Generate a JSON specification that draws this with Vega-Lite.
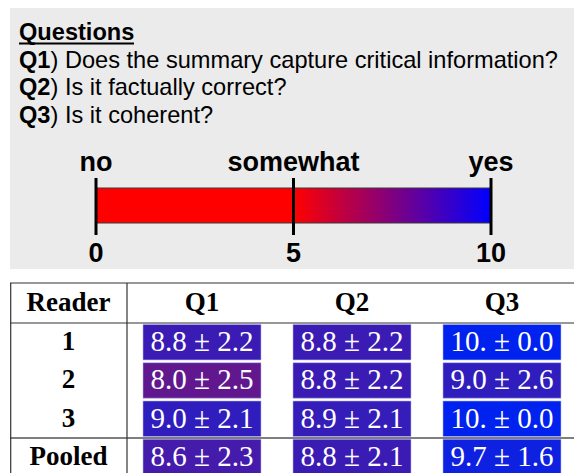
{
  "$schema": "https://vega.github.io/schema/vega-lite/v6.json",
  "background": "white",
  "padding": {"left": 9, "top": 8, "right": 0, "bottom": 0},
  "autosize": {"type": "pad"},
  "bounds": "flush",
  "spacing": 14,
  "config": {"view": {"stroke": null}},
  "datasets": {
    "questions": [
      {"line": "Questions", "part": "id", "text": "Questions"},
      {"line": "Q1", "part": "id", "text": "Q1"},
      {"line": "Q1", "part": "text", "text": ") Does the summary capture critical information?"},
      {"line": "Q2", "part": "id", "text": "Q2"},
      {"line": "Q2", "part": "text", "text": ") Is it factually correct?"},
      {"line": "Q3", "part": "id", "text": "Q3"},
      {"line": "Q3", "part": "text", "text": ") Is it coherent?"}
    ],
    "scale_bar": [{"element": "bar", "from": 0, "to": 10}],
    "scale_ticks": [
      {"element": "tick", "value": 0},
      {"element": "tick", "value": 5},
      {"element": "tick", "value": 10}
    ],
    "scale_labels": [
      {"value": 0, "kind": "answer", "label": "no"},
      {"value": 5, "kind": "answer", "label": "somewhat"},
      {"value": 10, "kind": "answer", "label": "yes"},
      {"value": 0, "kind": "score", "label": "0"},
      {"value": 5, "kind": "score", "label": "5"},
      {"value": 10, "kind": "score", "label": "10"}
    ],
    "headers": [
      {"column": "Reader"},
      {"column": "Q1"},
      {"column": "Q2"},
      {"column": "Q3"}
    ],
    "scores": [
      {"reader": "1", "question": "Q1", "mean": 8.8, "sd": 2.2, "label": "8.8 ± 2.2"},
      {"reader": "1", "question": "Q2", "mean": 8.8, "sd": 2.2, "label": "8.8 ± 2.2"},
      {"reader": "1", "question": "Q3", "mean": 10.0, "sd": 0.0, "label": "10. ± 0.0"},
      {"reader": "2", "question": "Q1", "mean": 8.0, "sd": 2.5, "label": "8.0 ± 2.5"},
      {"reader": "2", "question": "Q2", "mean": 8.8, "sd": 2.2, "label": "8.8 ± 2.2"},
      {"reader": "2", "question": "Q3", "mean": 9.0, "sd": 2.6, "label": "9.0 ± 2.6"},
      {"reader": "3", "question": "Q1", "mean": 9.0, "sd": 2.1, "label": "9.0 ± 2.1"},
      {"reader": "3", "question": "Q2", "mean": 8.9, "sd": 2.1, "label": "8.9 ± 2.1"},
      {"reader": "3", "question": "Q3", "mean": 10.0, "sd": 0.0, "label": "10. ± 0.0"},
      {"reader": "Pooled", "question": "Q1", "mean": 8.6, "sd": 2.3, "label": "8.6 ± 2.3"},
      {"reader": "Pooled", "question": "Q2", "mean": 8.8, "sd": 2.1, "label": "8.8 ± 2.1"},
      {"reader": "Pooled", "question": "Q3", "mean": 9.7, "sd": 1.6, "label": "9.7 ± 1.6"}
    ]
  },
  "vconcat": [
    {
      "width": 565,
      "height": 261,
      "view": {"fill": "#ebebeb", "stroke": null},
      "resolve": {"scale": {"x": "independent", "y": "independent"}},
      "layer": [
        {
          "data": {"name": "questions"},
          "transform": [{"filter": "datum.part === 'id'"}],
          "mark": {"type": "text", "align": "left", "baseline": "alphabetic", "font": "Liberation Sans", "fontSize": 23.6, "fontWeight": "bold", "color": "black"},
          "encoding": {
            "x": {"field": "part", "type": "nominal", "scale": {"type": "point", "domain": ["id", "text"], "range": [9, 40.5], "padding": 0}, "axis": null},
            "y": {"field": "line", "type": "nominal", "scale": {"type": "point", "domain": ["Questions", "Q1", "Q2", "Q3"], "range": [32, 115], "padding": 0}, "axis": null},
            "text": {"field": "text"}
          }
        },
        {
          "data": {"name": "questions"},
          "transform": [{"filter": "datum.part === 'text'"}],
          "mark": {"type": "text", "align": "left", "baseline": "alphabetic", "font": "Liberation Sans", "fontSize": 23.6, "fontWeight": "normal", "color": "black"},
          "encoding": {
            "x": {"field": "part", "type": "nominal", "scale": {"type": "point", "domain": ["id", "text"], "range": [9, 40.5], "padding": 0}, "axis": null},
            "y": {"field": "line", "type": "nominal", "scale": {"type": "point", "domain": ["Questions", "Q1", "Q2", "Q3"], "range": [32, 115], "padding": 0}, "axis": null},
            "text": {"field": "text"}
          }
        },
        {
          "data": {"name": "questions"},
          "transform": [{"filter": "datum.line === 'Questions'"}],
          "mark": {"type": "tick", "orient": "horizontal", "size": 115, "thickness": 2, "color": "black", "opacity": 1, "xOffset": 57.5, "yOffset": 3.5},
          "encoding": {
            "x": {"field": "part", "type": "nominal", "scale": {"type": "point", "domain": ["id", "text"], "range": [9, 40.5], "padding": 0}, "axis": null},
            "y": {"field": "line", "type": "nominal", "scale": {"type": "point", "domain": ["Questions", "Q1", "Q2", "Q3"], "range": [32, 115], "padding": 0}, "axis": null}
          }
        },
        {
          "data": {"name": "scale_bar"},
          "mark": {
            "type": "rect",
            "fill": {"gradient": "linear", "x1": 0, "y1": 0, "x2": 1, "y2": 0, "stops": [
              {"offset": 0, "color": "#ff0000"},
              {"offset": 0.5, "color": "#ff0000"},
              {"offset": 1, "color": "#0000ff"}
            ]},
            "stroke": "#3a3a3a",
            "strokeWidth": 1
          },
          "encoding": {
            "x": {"field": "from", "type": "quantitative", "scale": {"domain": [0, 10], "range": [86, 481], "nice": false, "zero": false}, "axis": null},
            "x2": {"field": "to"},
            "y": {"field": "element", "type": "nominal", "scale": {"type": "band", "domain": ["bar"], "range": [180, 215], "paddingInner": 0, "paddingOuter": 0}, "axis": null}
          }
        },
        {
          "data": {"name": "scale_ticks"},
          "mark": {"type": "tick", "orient": "vertical", "size": 57, "thickness": 3, "color": "black", "opacity": 1},
          "encoding": {
            "x": {"field": "value", "type": "quantitative", "scale": {"domain": [0, 10], "range": [86, 481], "nice": false, "zero": false}, "axis": null},
            "y": {"field": "element", "type": "nominal", "scale": {"type": "band", "domain": ["tick"], "range": [170, 227], "paddingInner": 0, "paddingOuter": 0}, "axis": null}
          }
        },
        {
          "data": {"name": "scale_labels"},
          "mark": {"type": "text", "align": "center", "baseline": "alphabetic", "font": "Liberation Sans", "fontSize": 27, "fontWeight": "bold", "color": "black"},
          "encoding": {
            "x": {"field": "value", "type": "quantitative", "scale": {"domain": [0, 10], "range": [86, 481], "nice": false, "zero": false}, "axis": null},
            "y": {"field": "kind", "type": "nominal", "scale": {"type": "point", "domain": ["answer", "score"], "range": [163, 254], "padding": 0}, "axis": null},
            "text": {"field": "label"}
          }
        }
      ]
    },
    {
      "width": 565,
      "height": 190,
      "resolve": {"scale": {"x": "independent", "y": "independent"}},
      "layer": [
        {
          "data": {"name": "scores"},
          "mark": {"type": "rect", "clip": true, "stroke": "#b8b8f0", "strokeWidth": 0.8, "strokeOpacity": 0.7},
          "encoding": {
            "x": {"field": "question", "type": "nominal", "scale": {"type": "band", "domain": ["Q1", "Q2", "Q3"], "range": [117, 567], "paddingInner": 0.2133, "paddingOuter": 0.1067}, "axis": null},
            "y": {"field": "reader", "type": "nominal", "scale": {"type": "band", "domain": ["1", "2", "3", "Pooled"], "range": [40, 193.2], "paddingInner": 0.073, "paddingOuter": 0.0365}, "axis": null},
            "color": {"field": "mean", "type": "quantitative", "scale": {"domain": [5, 10], "range": ["#f20a00", "#0022ee"], "interpolate": "rgb"}, "legend": null}
          }
        },
        {
          "data": {"name": "scores"},
          "mark": {"type": "text", "font": "Liberation Serif", "fontSize": 29, "color": "white", "align": "center", "baseline": "middle", "clip": true},
          "encoding": {
            "x": {"field": "question", "type": "nominal", "scale": {"type": "band", "domain": ["Q1", "Q2", "Q3"], "range": [117, 567], "paddingInner": 0.2133, "paddingOuter": 0.1067}, "axis": null},
            "y": {"field": "reader", "type": "nominal", "scale": {"type": "band", "domain": ["1", "2", "3", "Pooled"], "range": [40, 193.2], "paddingInner": 0.073, "paddingOuter": 0.0365}, "axis": null},
            "text": {"field": "label"}
          }
        },
        {
          "data": {"name": "scores"},
          "transform": [{"filter": "datum.question === 'Q1'"}],
          "mark": {"type": "text", "font": "Liberation Serif", "fontSize": 27, "fontWeight": "bold", "color": "black", "align": "center", "baseline": "middle", "clip": true},
          "encoding": {
            "x": {"datum": "Reader", "type": "nominal", "scale": {"type": "band", "domain": ["Reader"], "range": [0, 117], "paddingInner": 0, "paddingOuter": 0}, "axis": null},
            "y": {"field": "reader", "type": "nominal", "scale": {"type": "band", "domain": ["1", "2", "3", "Pooled"], "range": [40, 193.2], "paddingInner": 0.073, "paddingOuter": 0.0365}, "axis": null},
            "text": {"field": "reader"}
          }
        },
        {
          "data": {"name": "headers"},
          "transform": [{"filter": "datum.column === 'Reader'"}],
          "mark": {"type": "text", "font": "Liberation Serif", "fontSize": 27, "fontWeight": "bold", "color": "black", "align": "center", "baseline": "middle"},
          "encoding": {
            "x": {"field": "column", "type": "nominal", "scale": {"type": "band", "domain": ["Reader"], "range": [0, 117], "paddingInner": 0, "paddingOuter": 0}, "axis": null},
            "y": {"datum": "header", "type": "nominal", "scale": {"type": "band", "domain": ["header"], "range": [0, 40], "paddingInner": 0, "paddingOuter": 0}, "axis": null},
            "text": {"field": "column"}
          }
        },
        {
          "data": {"name": "headers"},
          "transform": [{"filter": "datum.column !== 'Reader'"}],
          "mark": {"type": "text", "font": "Liberation Serif", "fontSize": 27, "fontWeight": "bold", "color": "black", "align": "center", "baseline": "middle"},
          "encoding": {
            "x": {"field": "column", "type": "nominal", "scale": {"type": "band", "domain": ["Q1", "Q2", "Q3"], "range": [117, 567], "paddingInner": 0.2133, "paddingOuter": 0.1067}, "axis": null},
            "y": {"datum": "header", "type": "nominal", "scale": {"type": "band", "domain": ["header"], "range": [0, 40], "paddingInner": 0, "paddingOuter": 0}, "axis": null},
            "text": {"field": "column"}
          }
        },
        {
          "data": {"name": "headers"},
          "transform": [{"filter": "datum.column === 'Reader'"}],
          "mark": {"type": "rule", "color": "#333333", "strokeWidth": 1.2},
          "encoding": {
            "y": {"datum": "header", "type": "nominal", "bandPosition": 0, "scale": {"type": "band", "domain": ["header"], "range": [0, 40], "paddingInner": 0, "paddingOuter": 0}, "axis": null}
          }
        },
        {
          "data": {"name": "headers"},
          "transform": [{"filter": "datum.column === 'Reader'"}],
          "mark": {"type": "rule", "color": "#333333", "strokeWidth": 1.2},
          "encoding": {
            "y": {"datum": "header", "type": "nominal", "bandPosition": 1, "scale": {"type": "band", "domain": ["header"], "range": [0, 40], "paddingInner": 0, "paddingOuter": 0}, "axis": null}
          }
        },
        {
          "data": {"name": "scores"},
          "transform": [{"filter": "datum.question === 'Q1' && datum.reader === 'Pooled'"}],
          "mark": {"type": "rule", "color": "#555555", "strokeWidth": 1.5, "yOffset": -1.4},
          "encoding": {
            "y": {"field": "reader", "type": "nominal", "bandPosition": 0, "scale": {"type": "band", "domain": ["1", "2", "3", "Pooled"], "range": [40, 193.2], "paddingInner": 0.073, "paddingOuter": 0.0365}, "axis": null}
          }
        },
        {
          "data": {"name": "headers"},
          "transform": [{"filter": "datum.column === 'Reader'"}],
          "mark": {"type": "rule", "color": "#333333", "strokeWidth": 1.2, "xOffset": 0.7},
          "encoding": {
            "x": {"field": "column", "type": "nominal", "bandPosition": 0, "scale": {"type": "band", "domain": ["Reader"], "range": [0, 117], "paddingInner": 0, "paddingOuter": 0}, "axis": null}
          }
        },
        {
          "data": {"name": "headers"},
          "transform": [{"filter": "datum.column === 'Reader'"}],
          "mark": {"type": "rule", "color": "#333333", "strokeWidth": 1.2},
          "encoding": {
            "x": {"field": "column", "type": "nominal", "bandPosition": 1, "scale": {"type": "band", "domain": ["Reader"], "range": [0, 117], "paddingInner": 0, "paddingOuter": 0}, "axis": null}
          }
        }
      ]
    }
  ]
}
